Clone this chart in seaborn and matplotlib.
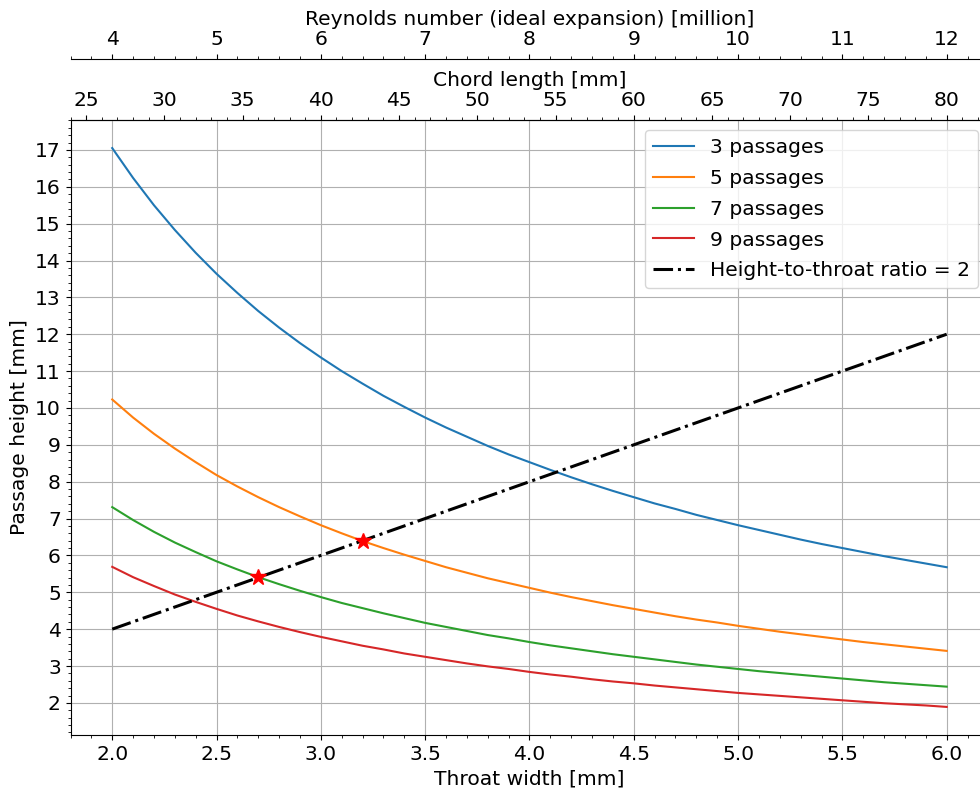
import numpy as np
import pandas as pd
import matplotlib
matplotlib.use("Agg")
import matplotlib.pyplot as plt
import seaborn as sns
from matplotlib.ticker import AutoMinorLocator, MultipleLocator, FormatStrFormatter

# ---- data ----
throat_width = [2.0, 2.1, 2.2, 2.3, 2.4, 2.5, 2.6, 2.7, 2.8, 2.9, 3.0,
                3.1, 3.2, 3.3, 3.4, 3.5, 3.6, 3.7, 3.8, 3.9, 4.0,
                4.1, 4.2, 4.3, 4.4, 4.5, 4.6, 4.7, 4.8, 4.9, 5.0,
                5.1, 5.2, 5.3, 5.4, 5.5, 5.6, 5.7, 5.8, 5.9, 6.0]
h_3 = [17.05, 16.24, 15.50, 14.83, 14.21, 13.64, 13.12, 12.63, 12.18, 11.76, 11.37,
       11.00, 10.66, 10.33, 10.03, 9.74, 9.47, 9.22, 8.97, 8.74, 8.53,
       8.32, 8.12, 7.93, 7.75, 7.58, 7.41, 7.26, 7.10, 6.96, 6.82,
       6.69, 6.56, 6.43, 6.31, 6.20, 6.09, 5.98, 5.88, 5.78, 5.68]
h_5 = [10.23, 9.74, 9.30, 8.90, 8.53, 8.18, 7.87, 7.58, 7.31, 7.06, 6.82,
       6.60, 6.39, 6.20, 6.02, 5.85, 5.68, 5.53, 5.38, 5.25, 5.12,
       4.99, 4.87, 4.76, 4.65, 4.55, 4.45, 4.35, 4.26, 4.18, 4.09,
       4.01, 3.93, 3.86, 3.79, 3.72, 3.65, 3.59, 3.53, 3.47, 3.41]
h_7 = [7.31, 6.96, 6.64, 6.35, 6.09, 5.84, 5.62, 5.41, 5.22, 5.04, 4.87,
       4.71, 4.57, 4.43, 4.30, 4.17, 4.06, 3.95, 3.84, 3.75, 3.65,
       3.56, 3.48, 3.40, 3.32, 3.25, 3.18, 3.11, 3.04, 2.98, 2.92,
       2.86, 2.81, 2.76, 2.71, 2.66, 2.61, 2.56, 2.52, 2.48, 2.44]
h_9 = [5.69, 5.41, 5.17, 4.94, 4.74, 4.55, 4.37, 4.21, 4.06, 3.92, 3.79,
       3.67, 3.55, 3.45, 3.34, 3.25, 3.16, 3.07, 2.99, 2.92, 2.84,
       2.77, 2.71, 2.64, 2.58, 2.53, 2.47, 2.42, 2.37, 2.32, 2.27,
       2.23, 2.19, 2.15, 2.11, 2.07, 2.03, 1.99, 1.96, 1.93, 1.89]
series_labels = ["3 passages", "5 passages", "7 passages", "9 passages"]

ratio_w = [2.0, 6.0]
ratio_h = [4.0, 12.0]
ratio_label = "Height-to-throat ratio = 2"

star_w = [2.70, 3.20]
star_h = [5.41, 6.40]

chord_per_width = 40.0 / 3.0      # chord [mm] per mm throat width
reynolds_per_width = 2.0          # Re [million] per mm throat width

# ---- build long-form table ----
rows = []
for lab, vals in zip(series_labels, [h_3, h_5, h_7, h_9]):
    for w, h in zip(throat_width, vals):
        rows.append({"w": w, "h": h, "series": lab})
df = pd.DataFrame(rows)

FS = 14.6
plt.rcParams.update({"font.family": ["DejaVu Sans"], "font.size": FS})

fig = plt.figure(figsize=(9.8, 7.92), dpi=100)
ax = fig.add_axes([70.5 / 980, 57 / 792, (988.4 - 70.5) / 980, 615 / 792])

palette = ["#1f77b4", "#ff7f0e", "#2ca02c", "#d62728"]
sns.lineplot(data=df, x="w", y="h", hue="series", palette=palette,
             linewidth=1.5, ax=ax, legend=True, estimator=None, sort=False)
sns.lineplot(x=ratio_w, y=ratio_h, color="black", linestyle="-.",
             linewidth=2.2, ax=ax, label=ratio_label)
ax.plot(star_w, star_h, linestyle="none", marker="*", color="red",
        markersize=12, zorder=5)

ax.set_xlim(1.8, 6.2)
ax.set_ylim(1.1285, 17.8115)
ax.xaxis.set_major_locator(MultipleLocator(0.5))
ax.xaxis.set_minor_locator(MultipleLocator(0.1))
ax.yaxis.set_major_locator(MultipleLocator(1))
ax.yaxis.set_minor_locator(AutoMinorLocator(5))
ax.xaxis.set_major_formatter(FormatStrFormatter("%.1f"))
ax.grid(True, which="major", color="#b0b0b0", linewidth=0.8)
ax.set_axisbelow(True)
ax.tick_params(labelsize=FS)
ax.set_xlabel("Throat width [mm]", fontsize=FS)
ax.set_ylabel("Passage height [mm]", fontsize=FS)

handles, labels = ax.get_legend_handles_labels()
ax.legend(handles, labels, loc="upper right", fontsize=FS, title=None,
          labelspacing=0.58)

chord = ax.secondary_xaxis("top", functions=(lambda w: w * chord_per_width,
                                             lambda c: c / chord_per_width))
chord.xaxis.set_major_locator(MultipleLocator(5))
chord.xaxis.set_minor_locator(MultipleLocator(1))
chord.tick_params(labelsize=FS)
chord.set_xlabel("Chord length [mm]", fontsize=FS)

rey = ax.secondary_xaxis(1 + 61 / 615, functions=(lambda w: w * reynolds_per_width,
                                                  lambda r: r / reynolds_per_width))
rey.xaxis.set_major_locator(MultipleLocator(1))
rey.xaxis.set_minor_locator(MultipleLocator(0.2))
rey.tick_params(labelsize=FS)
rey.set_xlabel("Reynolds number (ideal expansion) [million]", fontsize=FS)

fig.savefig("out.png", dpi=100)
